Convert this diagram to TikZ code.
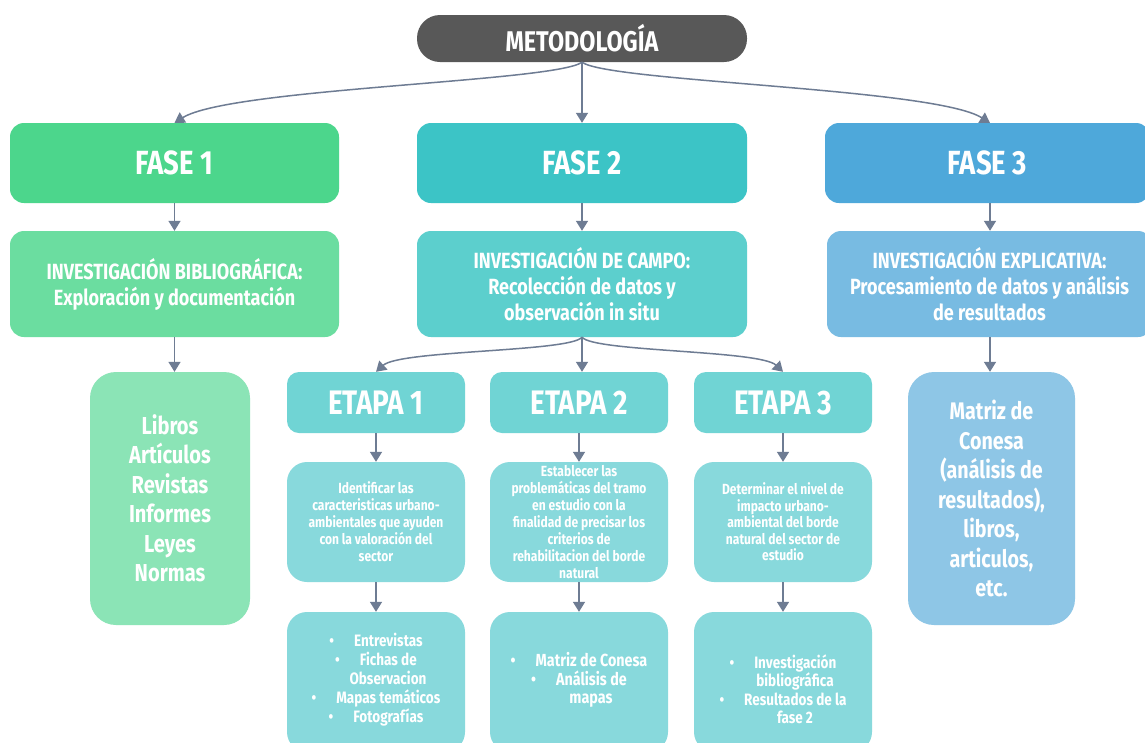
\documentclass[tikz,border=0pt]{standalone}
\usepackage{fontspec}
\setmainfont{Fira Sans}[FakeStretch=0.82]
\usetikzlibrary{arrows.meta}
\definecolor{cmet}{HTML}{585858}
\definecolor{cfa}{HTML}{4CD68C}
\definecolor{cfb}{HTML}{6BDDA0}
\definecolor{cfc}{HTML}{8BE4B6}
\definecolor{cta}{HTML}{3CC4C6}
\definecolor{ctb}{HTML}{5CCFCD}
\definecolor{ctc}{HTML}{70D4D4}
\definecolor{ctd}{HTML}{88D9DC}
\definecolor{cba}{HTML}{4EA8DA}
\definecolor{cbb}{HTML}{78BBE2}
\definecolor{cbc}{HTML}{8EC6E6}
\definecolor{carr}{HTML}{6E7C93}
\tikzset{
  box/.style={rounded corners=14pt, text=white, align=center, inner sep=0pt, font=\bfseries},
  hdr/.style={box, font=\bfseries\fontsize{33.5}{36}\selectfont},
  mid/.style={box, font=\bfseries\fontsize{22}{26}\selectfont},
  big/.style={box, rounded corners=26pt, font=\bfseries\fontsize{24.5}{29.5}\selectfont},
  small/.style={box, rounded corners=20pt, fill=ctd, minimum width=178pt, minimum height=120pt},
  bul/.style={box, rounded corners=20pt, fill=ctd, minimum width=178pt, minimum height=140pt},
  bultxt/.style={text=white, align=center, inner sep=0pt},
  arr/.style={draw=carr, line width=1.5pt, -{Triangle[width=12pt,length=10pt]}}
}
\newcommand{\bt}{\textbullet\hspace{20pt}}
\newcommand{\nb}{\hspace{24pt}}
\begin{document}
\begin{tikzpicture}[x=1pt,y=-1pt]
\useasboundingbox (0,0) rectangle (1145,742);
\fill[white] (0,0) rectangle (1145,742);
\node[box, fill=cmet, rounded corners=23pt, minimum width=330pt, minimum height=47pt, font=\bfseries\fontsize{28.5}{32}\selectfont] (met) at (582,38.5) {METODOLOGÍA};
\node[hdr, fill=cfa, minimum width=329pt, minimum height=80pt] (f1) at (174.5,163) {FASE 1};
\node[hdr, fill=cta, minimum width=330pt, minimum height=80pt] (f2) at (582,163) {FASE 2};
\node[hdr, fill=cba, minimum width=325pt, minimum height=80pt] (f3) at (987.5,163) {FASE 3};
\node[mid, fill=cfb, minimum width=329pt, minimum height=106pt] (i1) at (174.5,284) {INVESTIGACIÓN BIBLIOGRÁFICA:\\Exploración y documentación};
\node[mid, fill=ctb, minimum width=330pt, minimum height=106pt] (i2) at (582,284) {INVESTIGACIÓN DE CAMPO:\\Recolección de datos y\\observación in situ};
\node[mid, fill=cbb, minimum width=325pt, minimum height=106pt] (i3) at (989.5,284) {INVESTIGACIÓN EXPLICATIVA:\\Procesamiento de datos y análisis\\de resultados};
\node[big, fill=cfc, minimum width=160pt, minimum height=253pt] (lib) at (170,498.5) {Libros\\Artículos\\Revistas\\Informes\\Leyes\\Normas};
\node[big, fill=cbc, minimum width=167pt, minimum height=253pt, font=\bfseries\fontsize{24}{29.5}\selectfont] (mat) at (991.5,498.5) {Matriz de\\Conesa\\(análisis de\\resultados),\\libros,\\articulos,\\etc.};
\node[hdr, fill=ctc, rounded corners=12pt, minimum width=178pt, minimum height=61pt, font=\bfseries\fontsize{34}{36}\selectfont] (e1) at (376,402.5) {ETAPA 1};
\node[hdr, fill=ctc, rounded corners=12pt, minimum width=178pt, minimum height=61pt, font=\bfseries\fontsize{34}{36}\selectfont] (e2) at (579,402.5) {ETAPA 2};
\node[hdr, fill=ctc, rounded corners=12pt, minimum width=178pt, minimum height=61pt, font=\bfseries\fontsize{34}{36}\selectfont] (e3) at (783,402.5) {ETAPA 3};
\node[small, font=\bfseries\fontsize{14.7}{17}\selectfont] (t1) at (376,522) {Identificar las\\caracteristicas urbano-\\ambientales que ayuden\\con la valoración del\\sector};
\node[small, font=\bfseries\fontsize{14.7}{17}\selectfont] (t2) at (579,522) {Establecer las\\problemáticas del tramo\\en estudio con la\\finalidad de precisar los\\criterios de\\rehabilitacion del borde\\natural};
\node[small, font=\bfseries\fontsize{14.7}{16.5}\selectfont] (t3) at (783,522) {Determinar el nivel de\\impacto urbano-\\ambiental del borde\\natural del sector de\\estudio};
\node[bul] (b1) at (376,682) {};
\node[bul] (b2) at (579,682) {};
\node[bul] (b3) at (783,682) {};
\node[bultxt, font=\bfseries\fontsize{16.5}{19}\selectfont] (b1t) at (376,680) {\bt Entrevistas\\\bt Fichas de\\\nb Observacion\\\bt Mapas temáticos\\\bt Fotografías};
\node[bultxt, font=\bfseries\fontsize{17.5}{18.5}\selectfont] (b2t) at (579,680) {\bt Matriz de Conesa\\\bt Análisis de\\\nb mapas};
\node[bultxt, font=\bfseries\fontsize{16.5}{18.5}\selectfont] (b3t) at (783,689) {\bt Investigación\\\nb bibliográfica\\\bt Resultados de la\\\nb fase 2};
% connectors
\draw[arr] (met.south) .. controls (555,82) and (230,88) .. (f1.north);
\draw[arr] (met.south) -- (f2.north);
\draw[arr] (met.south) .. controls (609,82) and (935,88) .. (990,123);
\draw[arr] (f1.south) -- (i1.north);
\draw[arr] (f2.south) -- (i2.north);
\draw[arr] (f3.south -| 990,0) -- (i3.north -| 990,0);
\draw[arr] (i1.south) -- (i1.south |- lib.north);
\draw[arr] (i3.south -| 990,0) -- (mat.north -| 990,0);
\draw[arr] (i2.south) .. controls (570,352) and (400,350) .. (e1.north);
\draw[arr] (i2.south) -- (i2.south |- e2.north);
\draw[arr] (i2.south) .. controls (594,352) and (760,350) .. (e3.north);
\draw[arr] (e1.south) -- (t1.north);
\draw[arr] (e2.south) -- (t2.north);
\draw[arr] (e3.south) -- (t3.north);
\draw[arr] (t1.south) -- (b1.north);
\draw[arr] (t2.south) -- (b2.north);
\draw[arr] (t3.south) -- (b3.north);
\end{tikzpicture}
\end{document}
